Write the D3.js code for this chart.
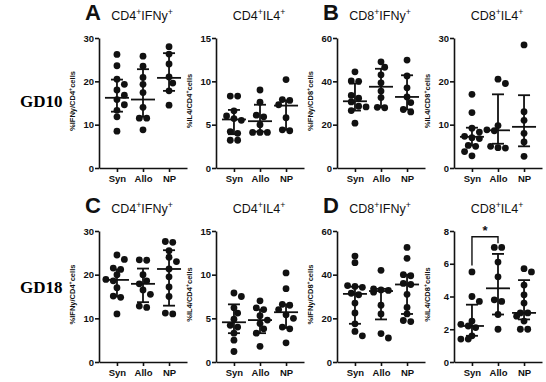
<!DOCTYPE html>
<html>
<head>
<meta charset="utf-8">
<script src="https://cdn.jsdelivr.net/npm/d3@7"></script>
<style>
  body { margin: 0; background: #fff; }
</style>
</head>
<body>
<div id="fig"></div>
<script>
const groups = ["Syn", "Allo", "NP"];

// GD10 row: points per group (Syn, Allo, NP), then [median, q1, q3]
const cd4Ifn10 = [
  [26.2, 23.6, 20.5, 19.3, 18.0, 16.8, 15.8, 14.6, 13.3, 11.8, 8.5],
  [25.8, 23.5, 20.9, 19.3, 17.4, 14.0, 11.5, 11.5, 8.8],
  [28.0, 26.3, 24.0, 21.0, 19.6, 17.8, 14.5]
];
const cd4Ifn10Bars = [[16.2, 13.0, 20.4], [15.8, 11.8, 22.8], [20.8, 17.8, 26.5]];

const cd4Il4_10 = [
  [8.3, 8.3, 6.6, 6.0, 5.7, 5.5, 4.2, 4.0, 3.2, 3.2],
  [9.0, 7.6, 6.1, 5.9, 5.0, 4.1, 4.1, 4.1],
  [10.2, 7.9, 7.8, 7.3, 5.8, 4.4, 4.3]
];
const cd4Il4_10Bars = [[5.6, 3.9, 6.7], [5.4, 4.2, 7.3], [7.2, 4.4, 7.8]];

const cd8Ifn10 = [
  [44.4, 40.2, 40.0, 33.5, 32.2, 30.5, 28.5, 28.2, 26.5, 20.7],
  [49.0, 46.5, 43.0, 39.3, 35.5, 32.5, 28.0, 27.8],
  [49.8, 42.5, 37.0, 32.8, 30.2, 27.0, 25.9]
];
const cd8Ifn10Bars = [[30.8, 26.5, 39.0], [37.5, 28.0, 45.8], [32.8, 27.0, 42.8]];

const cd8Il4_10 = [
  [17.0, 12.8, 9.2, 8.3, 7.3, 7.0, 6.8, 5.2, 5.0, 3.8, 2.8],
  [20.5, 19.5, 9.8, 8.8, 8.6, 5.0, 4.7, 4.6],
  [28.4, 13.0, 11.0, 8.0, 6.0, 2.7]
];
const cd8Il4_10Bars = [[7.2, 5.2, 9.3], [8.7, 5.6, 17.0], [9.5, 5.0, 16.8]];

// GD18 row
const cd4Ifn18 = [
  [24.5, 23.5, 21.5, 21.2, 20.0, 18.9, 18.6, 17.0, 15.1, 14.8, 11.0],
  [23.4, 23.3, 20.0, 18.6, 17.9, 16.5, 15.5, 12.8, 12.5],
  [27.6, 27.4, 25.5, 24.0, 23.0, 21.3, 19.5, 17.2, 15.0, 11.2, 11.0]
];
const cd4Ifn18Bars = [[18.8, 15.0, 21.2], [17.9, 13.7, 21.4], [21.3, 12.9, 25.6]];

const cd4Il4_18 = [
  [7.9, 7.5, 6.2, 5.6, 4.9, 4.2, 4.0, 3.3, 2.5, 1.2],
  [7.0, 6.2, 6.0, 5.3, 4.8, 4.4, 3.8, 3.3, 1.8],
  [10.2, 8.4, 6.6, 6.5, 6.0, 5.4, 5.0, 4.0, 3.8, 2.2]
];
const cd4Il4_18Bars = [[4.55, 3.3, 6.6], [4.8, 3.3, 6.0], [5.7, 3.9, 6.6]];

const cd8Ifn18 = [
  [48.5, 45.5, 35.0, 34.6, 34.2, 31.5, 30.8, 27.0, 22.5, 17.5, 14.0, 12.0],
  [42.0, 33.5, 33.0, 32.8, 32.0, 26.0, 22.0, 13.0, 11.0],
  [52.5, 47.5, 40.0, 39.5, 36.0, 35.5, 31.0, 25.0, 22.0, 19.0, 18.5]
];
const cd8Ifn18Bars = [[31.2, 17.5, 34.5], [32.5, 19.5, 33.5], [35.5, 22.0, 40.0]];

const cd8Il4_18 = [
  [5.5, 4.0, 3.7, 2.5, 2.3, 2.2, 2.1, 1.6, 1.4, 1.4],
  [7.0, 7.0, 6.1, 5.2, 3.8, 3.7, 2.9, 2.0],
  [5.7, 5.5, 4.7, 4.1, 3.6, 3.0, 3.0, 2.8, 2.5, 2.0, 2.0]
];
const cd8Il4_18Bars = [[2.2, 1.6, 3.5], [4.5, 2.9, 6.6], [3.0, 2.6, 5.0]];

// Syn vs Allo, significant (*) in GD18 CD8+IL4+
const sigBracket = {from: "Syn", to: "Allo", leftEnd: 5.9, rightEnd: 7.25, top: 7.65, label: "*"};

const rowLabels = ["GD10", "GD18"];

const W = 546, H = 382;
const sans = "'Liberation Sans', Arial, sans-serif";
const colX = [99, 216, 337, 454];
const rows = [{top: 38, bottom: 168}, {top: 231, bottom: 362}];

const panels = [
  {row: 0, col: 0, letter: "A", cell: "CD4", cyto: "IFNy", max: 30, step: 10, pts: cd4Ifn10, bars: cd4Ifn10Bars},
  {row: 0, col: 1, cell: "CD4", cyto: "IL4", max: 15, step: 5, pts: cd4Il4_10, bars: cd4Il4_10Bars},
  {row: 0, col: 2, letter: "B", cell: "CD8", cyto: "IFNy", max: 60, step: 20, pts: cd8Ifn10, bars: cd8Ifn10Bars},
  {row: 0, col: 3, cell: "CD8", cyto: "IL4", max: 30, step: 10, pts: cd8Il4_10, bars: cd8Il4_10Bars},
  {row: 1, col: 0, letter: "C", cell: "CD4", cyto: "IFNy", max: 30, step: 10, pts: cd4Ifn18, bars: cd4Ifn18Bars},
  {row: 1, col: 1, cell: "CD4", cyto: "IL4", max: 15, step: 5, pts: cd4Il4_18, bars: cd4Il4_18Bars},
  {row: 1, col: 2, letter: "D", cell: "CD8", cyto: "IFNy", max: 60, step: 20, pts: cd8Ifn18, bars: cd8Ifn18Bars},
  {row: 1, col: 3, cell: "CD8", cyto: "IL4", max: 8, step: 2, pts: cd8Il4_18, bars: cd8Il4_18Bars, sig: sigBracket}
];

const svg = d3.select("#fig").append("svg")
  .attr("width", W)
  .attr("height", H)
  .style("background", "#fff");

// row labels
rowLabels.forEach((t, i) => {
  svg.append("text")
    .attr("x", 20)
    .attr("y", i === 0 ? 107 : 293)
    .attr("font-family", "'Liberation Serif', 'Times New Roman', serif")
    .attr("font-weight", "bold")
    .attr("font-size", 17)
    .text(t);
});

// place dots side by side when their values are close (scatter dot plot)
function swarm(vals, y) {
  const pts = vals.map(v => ({v, py: y(v)})).sort((a, b) => a.py - b.py);
  const clusters = [];
  pts.forEach(p => {
    const c = clusters[clusters.length - 1];
    if (c && Math.abs(p.py - c[0].py) < 3) c.push(p);
    else clusters.push([p]);
  });
  const placed = [];
  const gap = 7.4;
  clusters.forEach(c => {
    const base = c.map((p, i) => (i - (c.length - 1) / 2) * gap);
    const shifts = [0, 3.7, -3.7, 7.4, -7.4];
    for (const s of shifts) {
      const xs = base.map(b => b + s);
      const ok = c.every((p, i) => placed.every(q => Math.hypot(q.dx - xs[i], q.py - p.py) >= 6.4));
      if (ok || s === shifts[shifts.length - 1]) {
        c.forEach((p, i) => { p.dx = xs[i]; placed.push(p); });
        break;
      }
    }
  });
  return placed;
}

function addSup(sel, parts) {
  // parts: [text, isSup]
  parts.forEach(([t, sup]) => {
    sel.append("tspan")
      .attr("font-size", sup ? "0.7em" : null)
      .attr("baseline-shift", sup ? "super" : null)
      .text(t);
  });
}

panels.forEach(p => {
  const r = rows[p.row];
  const x0 = colX[p.col];
  const g = svg.append("g");

  const y = d3.scaleLinear().domain([0, p.max]).range([r.bottom, r.top]);
  const x = d3.scalePoint().domain(groups).range([x0, x0 + 88]).padding(0.69);

  // y axis
  const ya = g.append("g")
    .attr("transform", `translate(${x0},0)`)
    .call(d3.axisLeft(y).tickValues(d3.range(0, p.max + 0.01, p.step)).tickSize(4).tickSizeOuter(0).tickPadding(1));
  // x axis
  const xa = g.append("g")
    .attr("transform", `translate(0,${r.bottom})`)
    .call(d3.axisBottom(x).tickSize(4).tickSizeOuter(0).tickPadding(3));

  [ya, xa].forEach(a => {
    a.attr("font-family", sans).attr("font-size", 9.5).attr("font-weight", "bold");
    a.selectAll("path, line").attr("stroke", "#111").attr("stroke-width", 1.6);
    a.selectAll("text").attr("fill", "#111");
  });

  // y axis title
  const yl = g.append("text")
    .attr("transform", `translate(${x0 - 24},${(r.top + r.bottom) / 2 - 2}) rotate(-90)`)
    .attr("text-anchor", "middle")
    .attr("font-family", sans)
    .attr("font-weight", "bold")
    .attr("font-size", 7.5)
    .attr("fill", "#111");
  addSup(yl, [[`%${p.cyto}/${p.cell}`, false], ["+", true], ["cells", false]]);

  // panel title
  const tt = g.append("text")
    .attr("x", x0 + 43)
    .attr("y", r.top - 18)
    .attr("text-anchor", "middle")
    .attr("font-family", sans)
    .attr("font-size", 12.5)
    .attr("fill", "#111");
  addSup(tt, [[p.cell, false], ["+", true], [p.cyto, false], ["+", true]]);

  if (p.letter) {
    g.append("text")
      .attr("x", x0 - 14)
      .attr("y", r.top - 18)
      .attr("font-family", sans)
      .attr("font-weight", "bold")
      .attr("font-size", 22)
      .attr("fill", "#111")
      .text(p.letter);
  }

  // dots
  groups.forEach((grp, i) => {
    const cx = x(grp);
    const placed = swarm(p.pts[i], y);
    g.append("g").selectAll("circle")
      .data(placed)
      .join("circle")
      .attr("cx", d => cx + d.dx)
      .attr("cy", d => d.py)
      .attr("r", 3.4)
      .attr("fill", "#111");

    // median with interquartile range
    const [med, q1, q3] = p.bars[i];
    const bg = g.append("g").attr("stroke", "#111").attr("stroke-width", 1.8);
    bg.append("line").attr("x1", cx).attr("x2", cx).attr("y1", y(q1)).attr("y2", y(q3));
    bg.append("line").attr("x1", cx - 6).attr("x2", cx + 6).attr("y1", y(q1)).attr("y2", y(q1));
    bg.append("line").attr("x1", cx - 6).attr("x2", cx + 6).attr("y1", y(q3)).attr("y2", y(q3));
    bg.append("line").attr("x1", cx - 12).attr("x2", cx + 12).attr("y1", y(med)).attr("y2", y(med));
  });

  // significance bracket
  if (p.sig) {
    const s = p.sig;
    const xa1 = x(s.from), xa2 = x(s.to);
    g.append("path")
      .attr("d", `M${xa1},${y(s.leftEnd)}V${y(s.top)}H${xa2}V${y(s.rightEnd)}`)
      .attr("fill", "none")
      .attr("stroke", "#111")
      .attr("stroke-width", 1.4);
    g.append("text")
      .attr("x", (xa1 + xa2) / 2)
      .attr("y", y(s.top) - 2)
      .attr("text-anchor", "middle")
      .attr("font-family", sans)
      .attr("font-weight", "bold")
      .attr("font-size", 13)
      .attr("fill", "#111")
      .text(s.label);
  }
});
</script>
</body>
</html>
